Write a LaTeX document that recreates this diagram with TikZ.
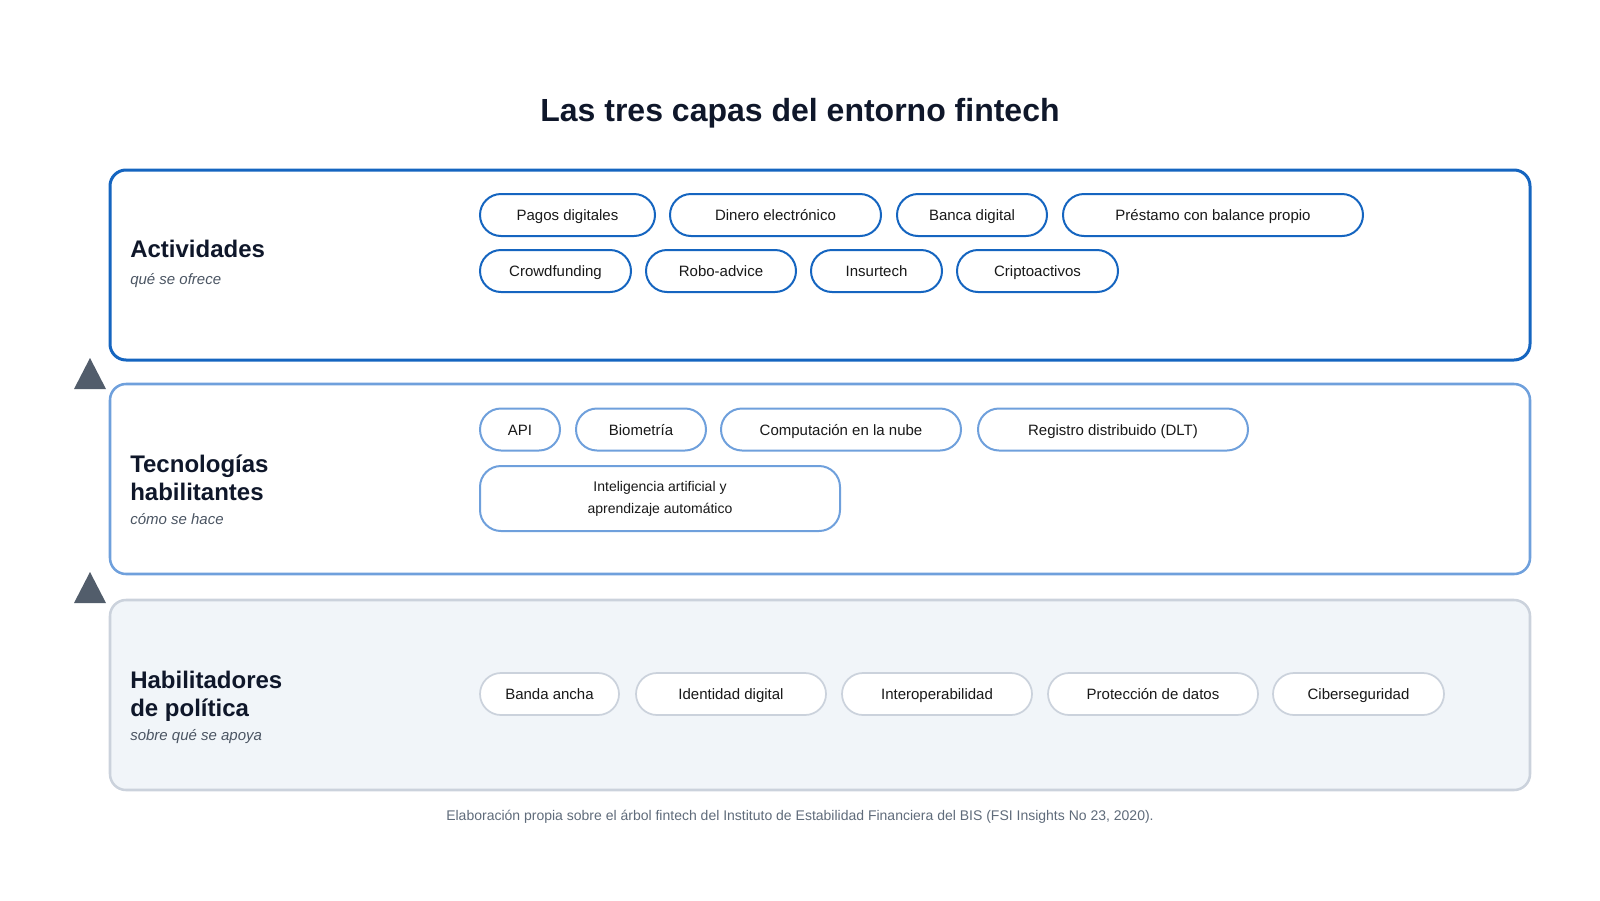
\documentclass[tikz,border=0pt]{standalone}
\usepackage{fontspec}
\setmainfont{Liberation Sans}
\definecolor{tinta}{HTML}{0F172A}
\definecolor{gris}{HTML}{4B5563}
\definecolor{pie}{HTML}{5F6B7A}
\definecolor{azulA}{HTML}{1565C0}
\definecolor{azulB}{HTML}{6FA0DC}
\definecolor{bordeC}{HTML}{CBD2DC}
\definecolor{fondoC}{HTML}{F1F5F9}
\definecolor{flecha}{HTML}{525D6B}

\tikzset{
  capaA/.style={draw=azulA, line width=2.25pt, rounded corners=12pt, fill=white},
  capaB/.style={draw=azulB, line width=1.9pt, rounded corners=12pt, fill=white},
  capaC/.style={draw=bordeC, line width=1.9pt, rounded corners=12pt, fill=fondoC},
  titulo capa/.style={anchor=base west, inner sep=0pt, text=tinta, font=\bfseries\fontsize{18}{21.75}\selectfont},
  sub capa/.style={anchor=base west, inner sep=0pt, text=gris, font=\itshape\fontsize{11.25}{13}\selectfont},
  chip/.style={rounded corners=15.75pt, inner sep=0pt, minimum height=31.5pt, fill=white, text=black!90, font=\fontsize{11.25}{13}\selectfont},
  chip linea/.style={chip, text height=11pt, text depth=2.3pt},
  chipA/.style={chip linea, draw=azulA, line width=1.5pt},
  chipB/.style={chip linea, draw=azulB, line width=1.5pt},
  chipC/.style={chip linea, draw=bordeC, line width=1.3pt},
  chipIA/.style={chip, draw=azulB, line width=1.5pt, align=center, font=\fontsize{10.5}{16.5}\selectfont}
}

\begin{document}
\begin{tikzpicture}[x=0.75pt, y=-0.75pt]
\useasboundingbox (0,0) rectangle (1600,900);

\node[anchor=base, inner sep=0pt, text=tinta, font=\bfseries\fontsize{24}{28}\selectfont] (titulo) at (800,121) {Las tres capas del entorno fintech};

\draw[capaA] (110,170) rectangle (1530,360);
\draw[capaB] (110,384) rectangle (1530,574);
\draw[capaC] (110,600) rectangle (1530,790);

\coordinate (T1) at (90,358);
\coordinate (L1) at (74,389);
\coordinate (R1) at (106,389);
\fill[flecha] (T1) -- (L1) -- (R1) -- cycle;
\coordinate (T2) at (90,572);
\coordinate (L2) at (74,603);
\coordinate (R2) at (106,603);
\fill[flecha] (T2) -- (L2) -- (R2) -- cycle;

\node[titulo capa] (act) at (130,257) {Actividades};
\node[sub capa] (actsub) at (130,284) {qué se ofrece};
\node[titulo capa] (tec) at (130,472) {Tecnologías};
\node[titulo capa] (tecb) at (130,500) {habilitantes};
\node[sub capa] (tecsub) at (130,524) {cómo se hace};
\node[titulo capa] (hab) at (130,688) {Habilitadores};
\node[titulo capa] (habb) at (130,716) {de política};
\node[sub capa] (habsub) at (130,740) {sobre qué se apoya};

\node[chipA, minimum width=131.25pt] (pagos) at (567.5,215) {Pagos digitales};
\node[chipA, minimum width=158.25pt] (dinero) at (775.5,215) {Dinero electrónico};
\node[chipA, minimum width=112.5pt] (banca) at (972,215) {Banca digital};
\node[chipA, minimum width=225pt] (prestamo) at (1213,215) {Préstamo con balance propio};
\node[chipA, minimum width=113.25pt] (crowd) at (555.5,271) {Crowdfunding};
\node[chipA, minimum width=112.5pt] (robo) at (721,271) {Robo-advice};
\node[chipA, minimum width=98.25pt] (insur) at (876.5,271) {Insurtech};
\node[chipA, minimum width=120.75pt] (cripto) at (1037.5,271) {Criptoactivos};

\node[chipB, minimum width=60pt] (api) at (520,429.5) {API};
\node[chipB, minimum width=97.5pt] (bio) at (641,429.5) {Biometría};
\node[chipB, minimum width=180pt] (nube) at (841,429.5) {Computación en la nube};
\node[chipB, minimum width=202.5pt] (dlt) at (1113,429.5) {Registro distribuido (DLT)};
\node[chipIA, minimum width=270pt, minimum height=48.75pt] (ia) at (660,498.5) {Inteligencia artificial y\\aprendizaje automático};

\node[chipC, minimum width=104.25pt] (banda) at (549.5,694) {Banda ancha};
\node[chipC, minimum width=142.5pt] (ident) at (731,694) {Identidad digital};
\node[chipC, minimum width=142.5pt] (inter) at (937,694) {Interoperabilidad};
\node[chipC, minimum width=157.5pt] (datos) at (1153,694) {Protección de datos};
\node[chipC, minimum width=128.25pt] (ciber) at (1358.5,694) {Ciberseguridad};

\node[anchor=base, inner sep=0pt, text=pie, font=\fontsize{10.5}{12.5}\selectfont] (fuente) at (800,820) {Elaboración propia sobre el árbol fintech del Instituto de Estabilidad Financiera del BIS (FSI Insights No 23, 2020).};
\end{tikzpicture}
\end{document}
